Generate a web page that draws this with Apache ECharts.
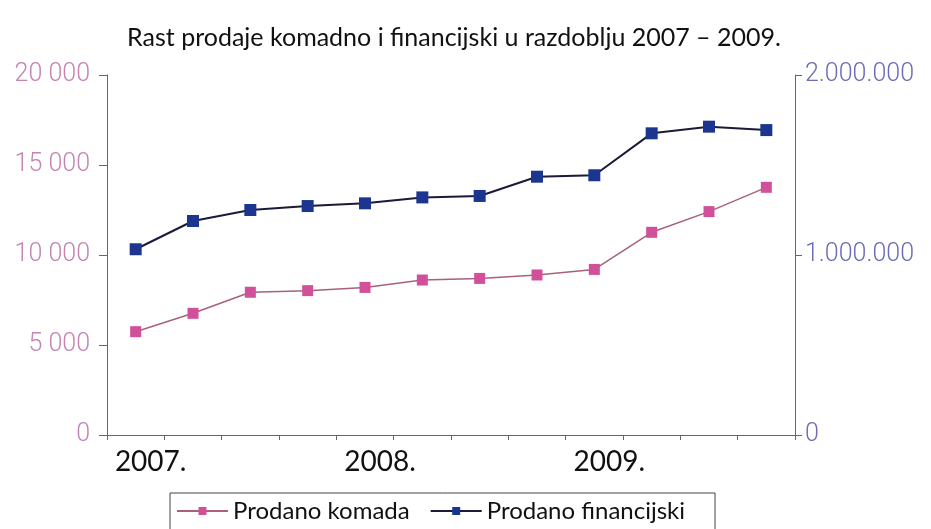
<!DOCTYPE html>
<html>
<head>
<meta charset="utf-8">
<script src="https://cdn.jsdelivr.net/npm/echarts@6/dist/echarts.min.js"></script>
<style>
  html, body { margin: 0; padding: 0; background: #fff; }
  #chart { width: 931px; height: 529px; }
</style>
</head>
<body>
<div id="chart"></div>
<script>
// kvartali 2007 - 2009
const categories = ['2007.', '', '', '', '2008.', '', '', '', '2009.', '', '', '']
const komada = [5740, 6760, 7930, 8020, 8200, 8610, 8700, 8890, 9200, 11260, 12410, 13760]
const financijski = [1032000, 1189000, 1250000, 1272000, 1287000, 1320000, 1328000, 1435000, 1443000, 1676000, 1713000, 1694000]
const leftTicks = [0, 5000, 10000, 15000, 20000]
const rightTicks = [0, 1000000, 2000000]

const fmtLeft = v => v === 0 ? '0' : String(v).replace(/\B(?=(\d{3})+(?!\d))/g, ' ')
const fmtRight = v => v === 0 ? '0' : String(v).replace(/\B(?=(\d{3})+(?!\d))/g, '.')

const axisLine = { show: true, lineStyle: { color: '#666', width: 1 } }

let myChart = echarts.init(document.getElementById('chart'))
myChart.setOption({
  backgroundColor: '#fff',
  animation: false,
  title: {
    text: 'Rast prodaje komadno i financijski u razdoblju 2007 – 2009.',
    left: 449,
    textAlign: 'center',
    top: 20,
    textStyle: { fontFamily: 'Lato', fontSize: 25, fontWeight: 'normal', color: '#111' }
  },
  legend: {
    top: 493,
    left: 170,
    padding: [6, 30, 12, 6],
    borderColor: '#444',
    borderWidth: 1,
    itemWidth: 51,
    itemHeight: 10,
    itemGap: 20,
    textStyle: { fontFamily: 'Lato', fontSize: 24, color: '#111' },
    data: ['Prodano komada', 'Prodano financijski']
  },
  grid: { left: 107, right: 136, top: 75, bottom: 94 },
  xAxis: {
    type: 'category',
    data: categories,
    boundaryGap: true,
    axisLine: axisLine,
    axisTick: { show: true, inside: false, length: 5, interval: 0, lineStyle: { color: '#666' } },
    axisLabel: {
      interval: 0,
      margin: 13,
      padding: [0, 0, 0, 30],
      fontFamily: 'Lato',
      fontSize: 28,
      color: '#111'
    }
  },
  yAxis: [{
    type: 'value',
    min: 0,
    max: 20000,
    interval: 5000,
    position: 'left',
    axisLine: axisLine,
    axisTick: { show: true, length: 8, lineStyle: { color: '#666' } },
    splitLine: { show: false },
    axisLabel: {
      margin: 17,
      fontFamily: 'Roboto',
      fontWeight: 300,
      fontSize: 25,
      color: '#c484b4',
      customValues: leftTicks,
      formatter: fmtLeft
    }
  }, {
    type: 'value',
    min: 0,
    max: 2000000,
    interval: 1000000,
    position: 'right',
    axisLine: axisLine,
    axisTick: { show: true, length: 7, lineStyle: { color: '#666' } },
    splitLine: { show: false },
    axisLabel: {
      margin: 10,
      fontFamily: 'Roboto',
      fontWeight: 300,
      fontSize: 25,
      color: '#6c6cb4',
      customValues: rightTicks,
      formatter: fmtRight
    }
  }],
  series: [{
    name: 'Prodano komada',
    type: 'line',
    yAxisIndex: 0,
    data: komada,
    symbol: 'rect',
    symbolSize: 11,
    itemStyle: { color: '#d0509a' },
    lineStyle: { color: '#a8607e', width: 1.5 }
  }, {
    name: 'Prodano financijski',
    type: 'line',
    yAxisIndex: 1,
    data: financijski,
    symbol: 'rect',
    symbolSize: 12,
    itemStyle: { color: '#1c3690' },
    lineStyle: { color: '#1a1a3a', width: 2 }
  }]
})
window.onresize = myChart.resize
</script>
</body>
</html>
